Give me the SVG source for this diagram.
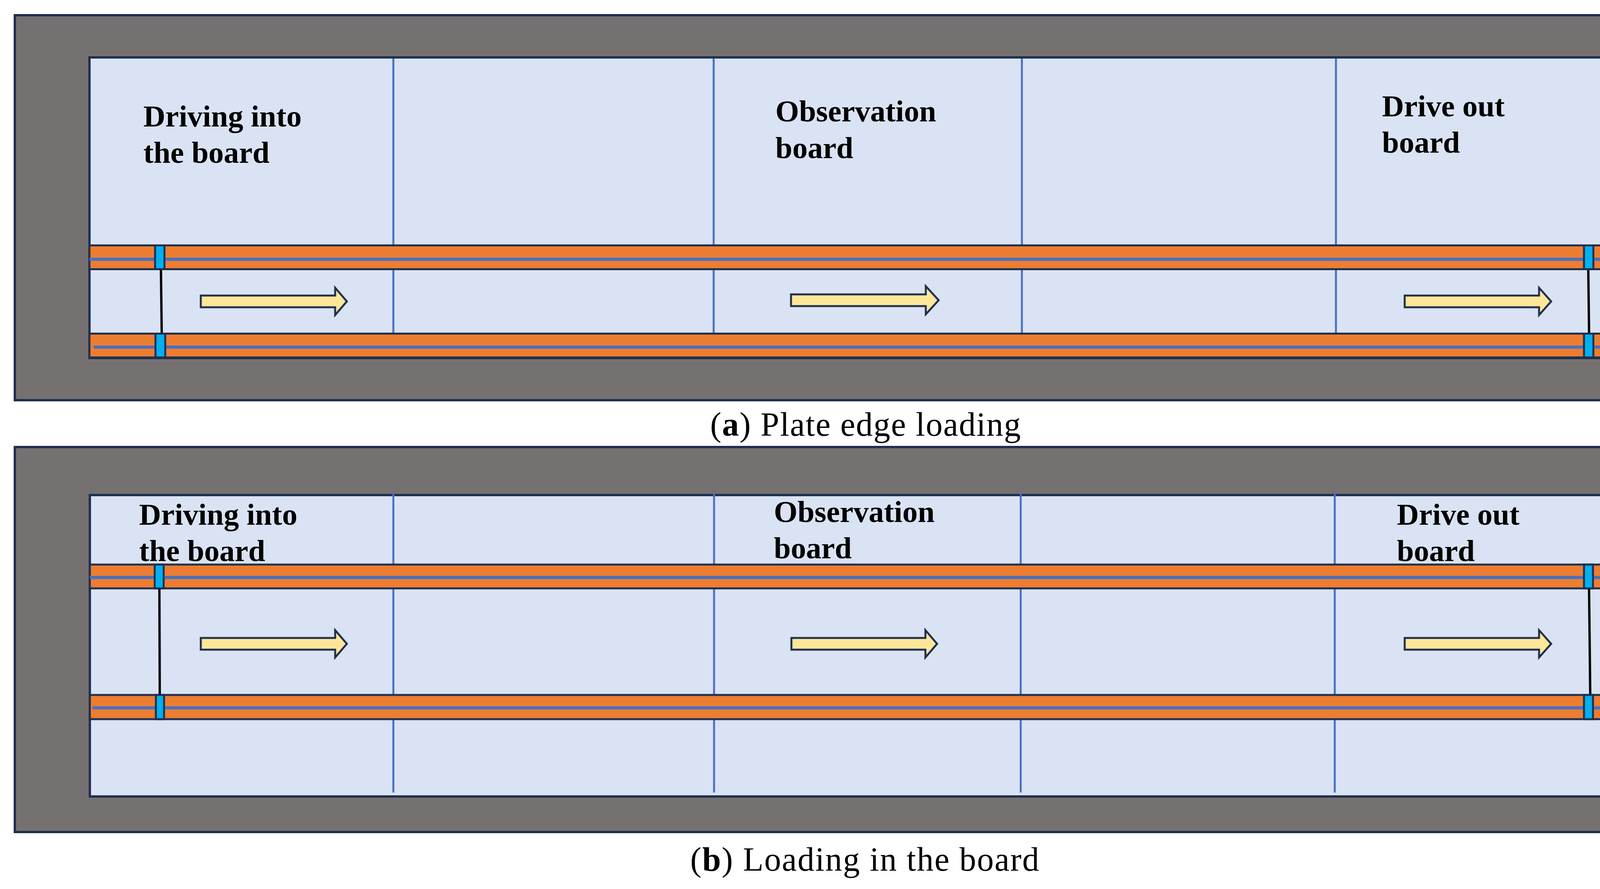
<svg xmlns="http://www.w3.org/2000/svg" width="4430" height="2277" viewBox="0 0 4430 2277">
<style>
.bg{fill:#ffffff}
.frame{fill:#767171;stroke:#1f3050;stroke-width:6}
.deck{fill:#dae3f3;stroke:#1f3050;stroke-width:6}
.div{stroke:#4472c4;stroke-width:5;fill:none}
.band{fill:#ed7d31;stroke:#1f3050;stroke-width:5}
.bline{stroke:#4472c4;stroke-width:8;fill:none}
.cyan{fill:#00b0f0;stroke:#1f3050;stroke-width:5}
.axle{stroke:#000000;stroke-width:6;fill:none}
.arrow{fill:#ffe699;stroke:#1f3050;stroke-width:5;stroke-linejoin:miter}
.lbl{font-family:"Liberation Serif","Times New Roman",serif;font-weight:bold;font-size:78px;fill:#000000}
.cap{font-family:"Liberation Serif","Times New Roman",serif;font-size:86px;fill:#000000}
</style>
<rect class="bg" x="0" y="0" width="4430" height="2277"/>

<!-- Panel (a) -->
<g id="panel-a">
  <rect class="frame" x="38" y="39" width="4355" height="986"/>
  <rect class="deck" x="229" y="147" width="3971" height="770"/>
  <g id="a-dividers">
    <line class="div" x1="1007" y1="150" x2="1007" y2="914"/>
    <line class="div" x1="1827" y1="150" x2="1827" y2="914"/>
    <line class="div" x1="2616" y1="150" x2="2616" y2="914"/>
    <line class="div" x1="3420" y1="150" x2="3420" y2="914"/>
  </g>
  <g id="a-band-top">
    <rect class="band" x="229" y="628.5" width="3971" height="61"/>
    <line class="bline" x1="229" y1="664" x2="4200" y2="664"/>
    <rect class="cyan" x="397" y="628.5" width="24" height="61"/>
    <rect class="cyan" x="4055" y="628.5" width="24" height="61"/>
  </g>
  <g id="a-band-bottom">
    <rect class="band" x="229" y="854.5" width="3971" height="61"/>
    <line class="bline" x1="240" y1="889" x2="4208" y2="889"/>
    <rect class="cyan" x="398" y="854.5" width="25" height="61"/>
    <rect class="cyan" x="4055" y="854.5" width="24" height="61"/>
  </g>
  <g id="a-axles">
    <line class="axle" x1="412" y1="692" x2="414" y2="852"/>
    <line class="axle" x1="4066" y1="692" x2="4068" y2="852"/>
  </g>
  <g id="a-label-in">
    <text class="lbl" x="367" y="324">Driving into</text>
    <text class="lbl" x="367" y="417">the board</text>
  </g>
  <g id="a-label-obs">
    <text class="lbl" x="1985" y="311">Observation</text>
    <text class="lbl" x="1985" y="405">board</text>
  </g>
  <g id="a-label-out">
    <text class="lbl" x="3538" y="298">Drive out</text>
    <text class="lbl" x="3538" y="391">board</text>
  </g>
</g>

<g id="caption-a">
  <text class="cap" x="1818" y="1116" textLength="795" lengthAdjust="spacing">(<tspan font-weight="bold">a</tspan>) Plate edge loading</text>
</g>

<!-- Panel (b) -->
<g id="panel-b">
  <rect class="frame" x="38" y="1145" width="4355" height="986"/>
  <rect class="deck" x="230" y="1268" width="3971" height="772"/>
  <g id="b-dividers">
    <line class="div" x1="1007" y1="1262" x2="1007" y2="2030"/>
    <line class="div" x1="1828" y1="1262" x2="1828" y2="2030"/>
    <line class="div" x1="2613" y1="1262" x2="2613" y2="2030"/>
    <line class="div" x1="3417" y1="1262" x2="3417" y2="2030"/>
  </g>
  <g id="b-band-top">
    <rect class="band" x="230" y="1446" width="3971" height="61"/>
    <line class="bline" x1="230" y1="1479" x2="4201" y2="1479"/>
    <rect class="cyan" x="396" y="1446" width="23" height="61"/>
    <rect class="cyan" x="4055" y="1446" width="23" height="61"/>
  </g>
  <g id="b-band-bottom">
    <rect class="band" x="230" y="1780" width="3971" height="62"/>
    <line class="bline" x1="237" y1="1813" x2="4208" y2="1813"/>
    <rect class="cyan" x="399" y="1780" width="21" height="62"/>
    <rect class="cyan" x="4055" y="1780" width="23" height="62"/>
  </g>
  <g id="b-axles">
    <line class="axle" x1="408" y1="1509" x2="409" y2="1778"/>
    <line class="axle" x1="4068" y1="1509" x2="4071" y2="1778"/>
  </g>
  <g id="b-label-in">
    <text class="lbl" x="356" y="1344">Driving into</text>
    <text class="lbl" x="356" y="1437">the board</text>
  </g>
  <g id="b-label-obs">
    <text class="lbl" x="1981" y="1337">Observation</text>
    <text class="lbl" x="1981" y="1430">board</text>
  </g>
  <g id="b-label-out">
    <text class="lbl" x="3576" y="1344">Drive out</text>
    <text class="lbl" x="3576" y="1437">board</text>
  </g>
</g>

<g id="caption-b">
  <text class="cap" x="1767" y="2230" textLength="893" lengthAdjust="spacing">(<tspan font-weight="bold">b</tspan>) Loading in the board</text>
</g>

<g id="connectors">
  <path class="arrow" d="M514,757 L858,757 L858,737 L888,772 L858,807 L858,787 L514,787 Z"/>
  <path class="arrow" d="M2025,754 L2370,754 L2370,733 L2403,769 L2370,805 L2370,784 L2025,784 Z"/>
  <path class="arrow" d="M3596,757 L3940,757 L3940,737 L3971,772 L3940,807 L3940,787 L3596,787 Z"/>
  <path class="arrow" d="M514,1634 L858,1634 L858,1614 L888,1649 L858,1684 L858,1664 L514,1664 Z"/>
  <path class="arrow" d="M2026,1634 L2369,1634 L2369,1614 L2399,1649 L2369,1684 L2369,1664 L2026,1664 Z"/>
  <path class="arrow" d="M3596,1634 L3940,1634 L3940,1614 L3971,1649 L3940,1684 L3940,1664 L3596,1664 Z"/>
</g>
</svg>
